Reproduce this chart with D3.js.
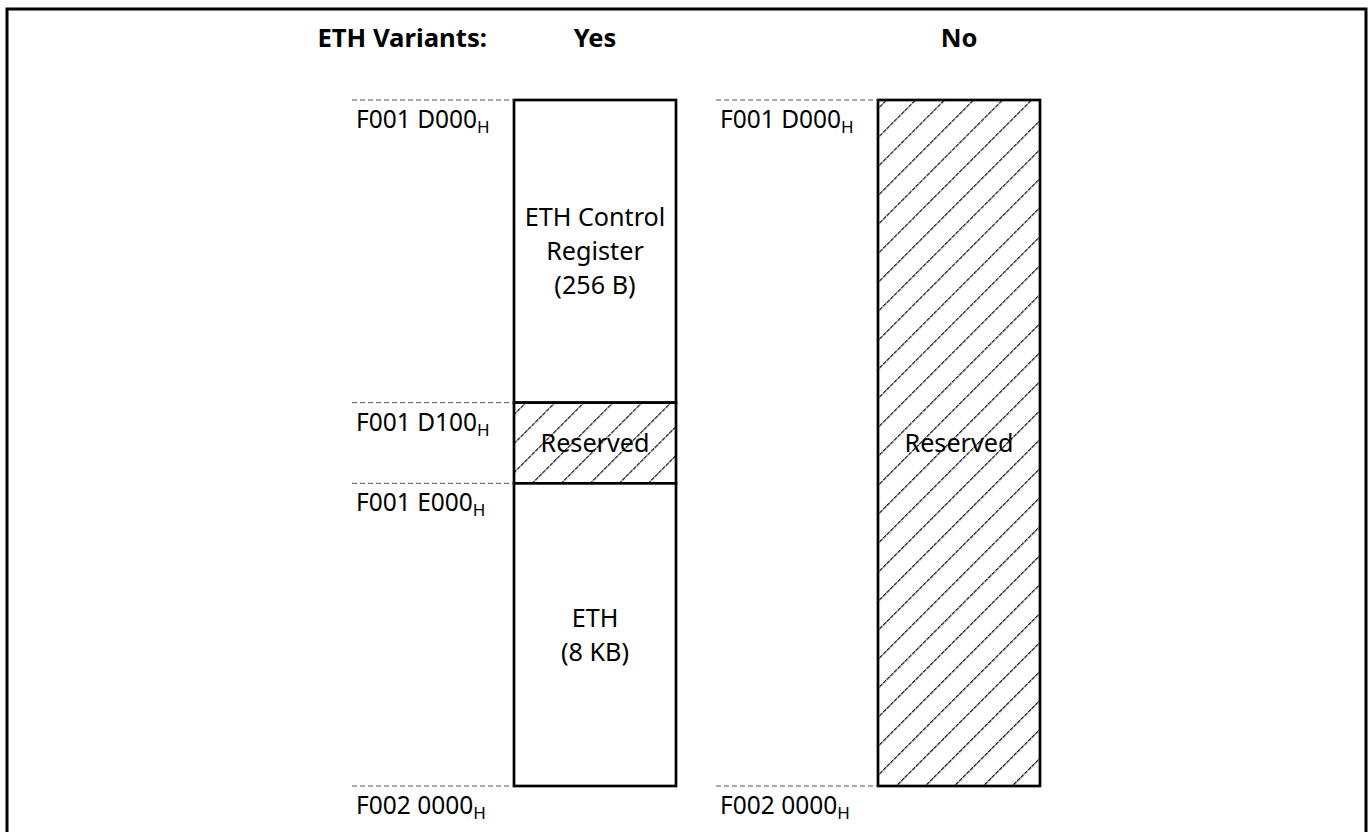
<!DOCTYPE html>
<html>
<head>
<meta charset="utf-8">
<script src="https://cdn.jsdelivr.net/npm/d3@7"></script>
<style>
  html, body { margin: 0; padding: 0; background: #fff; }
  svg { display: block; }
  text { font-family: "Noto Sans", "Open Sans", sans-serif; fill: #000; }
</style>
</head>
<body>
<svg id="chart" width="1370" height="832"></svg>
<script>
// ---- data ----
const variants = ["Yes", "No"];
const headerLabel = "ETH Variants:";
// address boundaries (Yes variant)
const yesBoundaries = ["F001 D000", "F001 D100", "F001 E000", "F002 0000"];
// address boundaries (No variant)
const noBoundaries = ["F001 D000", "F002 0000"];
// Yes variant regions (between consecutive boundaries)
const yesRegionLabels = [["ETH Control", "Register", "(256 B)"], ["Reserved"], ["ETH", "(8 KB)"]];
const yesRegionReserved = [false, true, false];
const yesRegionWeights = [3.75, 1, 3.75];   // drawn (not-to-scale) heights
// No variant regions
const noRegionLabels = [["Reserved"]];
const noRegionReserved = [true];
const noRegionWeights = [8.5];
const addrSuffix = "H";

// ---- layout ----
const svg = d3.select("#chart");

// outer frame
svg.append("rect")
  .attr("x", 7).attr("y", 9)
  .attr("width", 1359).attr("height", 900)
  .attr("fill", "none").attr("stroke", "#000").attr("stroke-width", 3);

// hatch pattern
const defs = svg.append("defs");
const pat = defs.append("pattern")
  .attr("id", "hatch")
  .attr("patternUnits", "userSpaceOnUse")
  .attr("width", 20.5).attr("height", 20.5)
  .attr("patternTransform", "rotate(45)");
pat.append("rect").attr("width", 20.5).attr("height", 20.5).attr("fill", "#fff");
pat.append("line")
  .attr("x1", 0).attr("y1", -2).attr("x2", 0).attr("y2", 22.5)
  .attr("stroke", "#000").attr("stroke-width", 2.4)
  .attr("stroke-dasharray", "4.2 0.9");

const x = d3.scaleBand()
  .domain(variants)
  .range([514, 1040])
  .paddingInner(202 / 364)
  .paddingOuter(0);

const yTop = 100, yBottom = 786;
const totalWeight = d3.sum(yesRegionWeights);
const y = d3.scaleLinear().domain([0, totalWeight]).range([yTop, yBottom]);

function drawColumn(variant, boundaries, labels, reserved, weights) {
  const cum = [0];
  weights.forEach(w => cum.push(cum[cum.length - 1] + w * (totalWeight / d3.sum(weights))));
  const x0 = x(variant), bw = x.bandwidth();
  const g = svg.append("g");

  // regions
  labels.forEach((lab, i) => {
    const y0 = y(cum[i]), y1 = y(cum[i + 1]);
    g.append("rect")
      .attr("x", x0).attr("y", y0)
      .attr("width", bw).attr("height", y1 - y0)
      .attr("fill", reserved[i] ? "url(#hatch)" : "#fff")
      .attr("stroke", "#000").attr("stroke-width", 2.7);
  });
  labels.forEach((lab, i) => {
    const y0 = y(cum[i]), y1 = y(cum[i + 1]);
    const cy = (y0 + y1) / 2;
    const lh = 34;
    const t = g.append("text")
      .attr("text-anchor", "middle")
      .attr("font-size", 25.2);
    lab.forEach((line, k) => {
      t.append("tspan")
        .attr("x", x0 + bw / 2)
        .attr("y", cy + (k - (lab.length - 1) / 2) * lh + 9)
        .text(line);
    });
  });

  // boundary dashed lines + labels
  boundaries.forEach((b, i) => {
    const yy = y(cum[i]);
    g.append("line")
      .attr("x1", x0 - 162).attr("x2", x0)
      .attr("y1", yy).attr("y2", yy)
      .attr("stroke", "#555").attr("stroke-width", 1)
      .attr("stroke-dasharray", "5 3");
    const t = g.append("text")
      .attr("x", x0 - 158).attr("y", yy + 28)
      .attr("font-size", 24.5);
    t.append("tspan").text(b);
    t.append("tspan").attr("font-size", 17).attr("dy", 5).text(addrSuffix);
  });

  // header
  svg.append("text")
    .attr("x", x0 + bw / 2).attr("y", 47)
    .attr("text-anchor", "middle")
    .attr("font-size", 25.5).attr("font-weight", "bold")
    .text(variant);
}

drawColumn("Yes", yesBoundaries, yesRegionLabels, yesRegionReserved, yesRegionWeights);
drawColumn("No", noBoundaries, noRegionLabels, noRegionReserved, noRegionWeights);

svg.append("text")
  .attr("x", 487).attr("y", 47)
  .attr("text-anchor", "end")
  .attr("font-size", 25.7).attr("font-weight", "bold")
  .text(headerLabel);
</script>
</body>
</html>
